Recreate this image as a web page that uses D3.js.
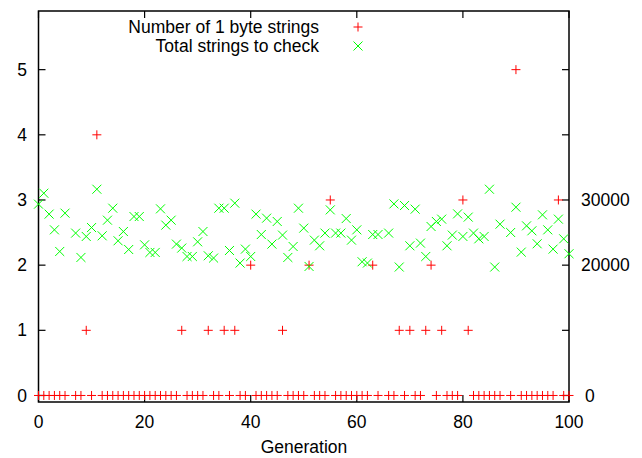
<!DOCTYPE html>
<html><head><meta charset="utf-8">
<script src="https://cdn.jsdelivr.net/npm/d3@7"></script>
<style>body{margin:0;background:#fff}svg{display:block}text{font-family:"Liberation Sans",Arial,sans-serif;fill:#000}</style>
</head><body>
<svg id="c" width="642" height="458"></svg>
<script>
// ---- data ----
const generations = d3.range(0, 101);
// Number of 1 byte strings (left axis); null = no data for that generation
const oneByteStrings = [
0,0,0,0,0,0,null,0,0,1, 0,4,0,0,0,0,0,0,0,0,
0,0,0,0,0,0,0,1,0,0, 0,0,1,0,0,1,0,1,0,0,
2,0,0,0,0,0,1,0,0,0, 0,2,0,0,0,3,0,0,0,0,
0,0,0,2,0,null,0,0,1,0, 1,0,0,1,2,0,1,0,0,0,
3,1,0,0,0,0,0,0,null,0, 5,0,0,0,0,0,0,0,3,0, 0];
// Total strings to check (right axis)
const totalStrings = [
29360,31040,27830,25420,22100,27980,null,24920,21180,24400,
25770,31650,24500,26900,28740,23740,25160,22400,27460,27460,
23120,21950,21950,28640,26140,26900,23230,22620,21330,21330,
23580,25160,21440,21090,28740,28740,22250,29510,20320,22460,
21330,27830,24700,27210,23230,26700,24610,21180,22860,28740,
25680,19800,23840,22970,24920,28480,24920,24920,27150,23840,
25420,20520,20320,24700,24700,null,24920,29400,19710,29150,
22970,28590,23380,21330,25930,26700,27060,22970,24610,27870,
24400,27370,24920,24040,24400,31650,19710,26290,null,25010,
28890,22000,26030,25270,23280,27720,25420,22460,27060,24040,21750];
const xTicks = [0, 20, 40, 60, 80, 100];
const yTicks = [0, 1, 2, 3, 4, 5];
const y2Ticks = [0, 20000, 30000];
const legendLabels = ["Number of 1 byte strings", "Total strings to check"];
const xLabel = "Generation";

// ---- layout ----
const svg = d3.select("#c");
const L = 38.5, R = 569, T = 11, B = 402;
const fs = 17.5;
const x = d3.scaleLinear().domain([0, 100]).range([L, R]);
const y = d3.scaleLinear().domain([-0.1, 5.9]).range([B, T]);
const y2 = d3.scaleLinear().domain([-1000, 59000]).range([B, T]);
const red = "#ff0000", green = "#00ff00";
const tl = 7;

const g = svg.append("g");
// ticks
xTicks.forEach(v => {
  g.append("line").attr("x1", x(v)).attr("x2", x(v)).attr("y1", B).attr("y2", B - tl).attr("stroke", "#000").attr("stroke-width", 1.2);
  g.append("line").attr("x1", x(v)).attr("x2", x(v)).attr("y1", T).attr("y2", T + tl).attr("stroke", "#000").attr("stroke-width", 1.2);
  g.append("text").attr("x", x(v)).attr("y", 422).attr("dy", "0.35em").attr("text-anchor", "middle").attr("font-size", fs).text(v);
});
yTicks.forEach(v => {
  g.append("line").attr("x1", L).attr("x2", L + tl).attr("y1", y(v)).attr("y2", y(v)).attr("stroke", "#000").attr("stroke-width", 1.2);
  g.append("line").attr("x1", R).attr("x2", R - tl).attr("y1", y(v)).attr("y2", y(v)).attr("stroke", "#000").attr("stroke-width", 1.2);
  g.append("text").attr("x", 27).attr("y", y(v)).attr("dy", "0.35em").attr("text-anchor", "end").attr("font-size", fs).text(v);
});
y2Ticks.forEach(v => {
  g.append("text").attr("x", v === 0 ? 585 : 581).attr("y", y2(v)).attr("dy", "0.35em").attr("text-anchor", "start").attr("font-size", fs).text(v);
});
g.append("text").attr("x", 304).attr("y", 447).attr("dy", "0.35em").attr("text-anchor", "middle").attr("font-size", fs).text(xLabel);

// frame
g.append("rect").attr("x", L).attr("y", T).attr("width", R - L).attr("height", B - T)
  .attr("fill", "none").attr("stroke", "#000").attr("stroke-width", 1.5);

const s = 4.5;
function plus(sel, cx, cy, col) {
  sel.append("path").attr("d", `M${cx - s},${cy}H${cx + s}M${cx},${cy - s}V${cy + s}`).attr("stroke", col).attr("stroke-width", 1).attr("fill", "none");
}
function cross(sel, cx, cy, col) {
  sel.append("path").attr("d", `M${cx - s},${cy - s}L${cx + s},${cy + s}M${cx - s},${cy + s}L${cx + s},${cy - s}`).attr("stroke", col).attr("stroke-width", 1).attr("fill", "none");
}
const pts = svg.append("g");
generations.forEach((gen, i) => {
  if (oneByteStrings[i] != null) plus(pts, x(gen), y(oneByteStrings[i]), red);
});
generations.forEach((gen, i) => {
  if (totalStrings[i] != null) cross(pts, x(gen), y2(totalStrings[i]), green);
});

// legend
const ly = [27, 46];
g.append("text").attr("x", 319).attr("y", ly[0]).attr("dy", "0.35em").attr("text-anchor", "end").attr("font-size", fs).text(legendLabels[0]);
g.append("text").attr("x", 319).attr("y", ly[1]).attr("dy", "0.35em").attr("text-anchor", "end").attr("font-size", fs).text(legendLabels[1]);
plus(g, 358, ly[0], red);
cross(g, 358, ly[1], green);
</script>
</body></html>
